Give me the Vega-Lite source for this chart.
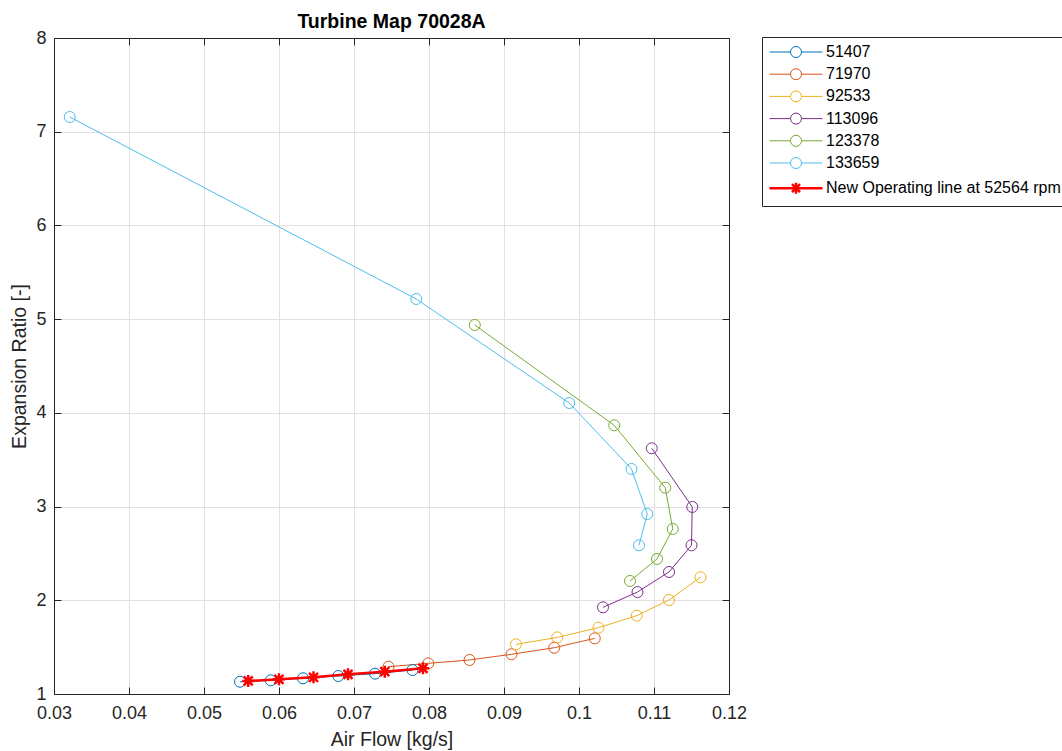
{
  "$schema": "https://vega.github.io/schema/vega-lite/v6.json",
  "width": 675,
  "height": 656,
  "autosize": {"type": "none"},
  "padding": {"left": 54, "top": 38, "right": 333, "bottom": 57},
  "background": "white",
  "title": {"text": "Turbine Map 70028A", "font": "Liberation Sans", "fontSize": 19.5, "fontWeight": "bold", "color": "#000000", "offset": 8, "dy": 11, "anchor": "middle", "frame": "group"},
  "config": {
    "view": {"stroke": null},
    "legend": {
      "orient": "none", "legendX": 708, "legendY": -1,
      "strokeColor": "#262626", "fillColor": "white", "padding": 7,
      "labelFont": "Liberation Sans", "labelFontSize": 16, "labelColor": "#000000", "labelLimit": 400,
      "symbolSize": 100, "symbolOffset": 19, "labelOffset": 22, "rowPadding": 6.2,
      "symbolFillColor": "transparent"
    }
  },
  "datasets": {"pts": [
    {"s": "51407", "i": 1, "x": 0.0548, "y": 1.131},
    {"s": "51407", "i": 2, "x": 0.0589, "y": 1.146},
    {"s": "51407", "i": 3, "x": 0.0632, "y": 1.168},
    {"s": "51407", "i": 4, "x": 0.0679, "y": 1.192},
    {"s": "51407", "i": 5, "x": 0.0728, "y": 1.217},
    {"s": "51407", "i": 6, "x": 0.0778, "y": 1.256},
    {"s": "71970", "i": 1, "x": 0.0746, "y": 1.291},
    {"s": "71970", "i": 2, "x": 0.0799, "y": 1.327},
    {"s": "71970", "i": 3, "x": 0.0854, "y": 1.363},
    {"s": "71970", "i": 4, "x": 0.0910, "y": 1.424},
    {"s": "71970", "i": 5, "x": 0.0967, "y": 1.494},
    {"s": "71970", "i": 6, "x": 0.1021, "y": 1.594},
    {"s": "92533", "i": 1, "x": 0.0916, "y": 1.530},
    {"s": "92533", "i": 2, "x": 0.0971, "y": 1.604},
    {"s": "92533", "i": 3, "x": 0.1026, "y": 1.708},
    {"s": "92533", "i": 4, "x": 0.1077, "y": 1.836},
    {"s": "92533", "i": 5, "x": 0.1120, "y": 2.003},
    {"s": "92533", "i": 6, "x": 0.1162, "y": 2.246},
    {"s": "113096", "i": 1, "x": 0.1032, "y": 1.925},
    {"s": "113096", "i": 2, "x": 0.1078, "y": 2.088},
    {"s": "113096", "i": 3, "x": 0.1120, "y": 2.302},
    {"s": "113096", "i": 4, "x": 0.1150, "y": 2.587},
    {"s": "113096", "i": 5, "x": 0.1151, "y": 2.996},
    {"s": "113096", "i": 6, "x": 0.1097, "y": 3.622},
    {"s": "123378", "i": 1, "x": 0.1068, "y": 2.206},
    {"s": "123378", "i": 2, "x": 0.1104, "y": 2.441},
    {"s": "123378", "i": 3, "x": 0.1125, "y": 2.761},
    {"s": "123378", "i": 4, "x": 0.1115, "y": 3.201},
    {"s": "123378", "i": 5, "x": 0.1047, "y": 3.867},
    {"s": "123378", "i": 6, "x": 0.0861, "y": 4.938},
    {"s": "133659", "i": 1, "x": 0.1080, "y": 2.587},
    {"s": "133659", "i": 2, "x": 0.1091, "y": 2.921},
    {"s": "133659", "i": 3, "x": 0.1070, "y": 3.401},
    {"s": "133659", "i": 4, "x": 0.0987, "y": 4.105},
    {"s": "133659", "i": 5, "x": 0.0783, "y": 5.215},
    {"s": "133659", "i": 6, "x": 0.0321, "y": 7.157},
    {"s": "New Operating line at 52564 rpm", "i": 1, "x": 0.0559, "y": 1.139},
    {"s": "New Operating line at 52564 rpm", "i": 2, "x": 0.0600, "y": 1.157},
    {"s": "New Operating line at 52564 rpm", "i": 3, "x": 0.0646, "y": 1.178},
    {"s": "New Operating line at 52564 rpm", "i": 4, "x": 0.0692, "y": 1.210},
    {"s": "New Operating line at 52564 rpm", "i": 5, "x": 0.0741, "y": 1.238},
    {"s": "New Operating line at 52564 rpm", "i": 6, "x": 0.0792, "y": 1.274}
  ]},
  "data": {"name": "pts"},
  "resolve": {"axis": {"x": "independent", "y": "independent"}},
  "encoding": {
    "color": {"field": "s", "type": "nominal",
      "scale": {"domain": ["51407", "71970", "92533", "113096", "123378", "133659", "New Operating line at 52564 rpm"],
        "range": ["#0072BD", "#D95319", "#EDB120", "#7E2F8E", "#77AC30", "#4DBEEE", "#FF0000"]},
      "legend": {"title": null,
        "symbolType": "M-5.3,0H-1.1M1.1,0H5.3M1.1,0A1.1,1.1,0,1,1,-1.1,0A1.1,1.1,0,1,1,1.1,0",
        "encode": {"symbols": {"update": {
          "shape": {"signal": "datum.value === 'New Operating line at 52564 rpm' ? 'M-5.3,0H5.3M-1.1,0H1.1M0,-1.1V1.1M-0.8,-0.8L0.8,0.8M-0.8,0.8L0.8,-0.8' : 'M-5.3,0H-1.1M1.1,0H5.3M1.1,0A1.1,1.1,0,1,1,-1.1,0A1.1,1.1,0,1,1,1.1,0'"},
          "strokeWidth": {"signal": "datum.value === 'New Operating line at 52564 rpm' ? 2.5 : 1"},
          "stroke": {"scale": "color", "field": "value"},
          "fill": {"value": "transparent"},
          "opacity": {"value": 1}
        }}}}}
  },
  "layer": [
    {
      "transform": [{"filter": "datum.s !== 'New Operating line at 52564 rpm'"}],
      "mark": {"type": "line", "clip": true, "strokeWidth": 1},
      "encoding": {
        "x": {"field": "x", "type": "quantitative",
          "scale": {"domain": [0.03, 0.12], "nice": false, "zero": false},
          "axis": {"orient": "bottom", "values": [0.03, 0.04, 0.05, 0.06, 0.07, 0.08, 0.09, 0.1, 0.11, 0.12], "format": "~g",
            "grid": true, "gridColor": "#e1e1e1", "ticks": false, "domainColor": "#262626",
            "labelPadding": 10, "labelFont": "Liberation Sans", "labelFontSize": 18, "labelColor": "#262626", "labelFlush": false,
            "title": "Air Flow [kg/s]", "titleFont": "Liberation Sans", "titleFontSize": 19.5, "titleFontWeight": "normal", "titleColor": "#262626", "titlePadding": 8}},
        "y": {"field": "y", "type": "quantitative",
          "scale": {"domain": [1, 8], "nice": false, "zero": false},
          "axis": {"orient": "left", "values": [1, 2, 3, 4, 5, 6, 7, 8],
            "grid": true, "gridColor": "#e1e1e1", "ticks": false, "domainColor": "#262626",
            "labelPadding": 8, "labelFont": "Liberation Sans", "labelFontSize": 18, "labelColor": "#262626", "labelFlush": false,
            "title": "Expansion Ratio [-]", "titleFont": "Liberation Sans", "titleFontSize": 19.5, "titleFontWeight": "normal", "titleColor": "#262626", "titlePadding": 6}},
        "order": {"field": "i", "type": "quantitative"}
      }
    },
    {
      "transform": [{"filter": "datum.s !== 'New Operating line at 52564 rpm'"}],
      "mark": {"type": "point", "shape": "circle", "filled": false, "clip": true, "opacity": 1, "size": 121, "strokeWidth": 1},
      "encoding": {
        "x": {"field": "x", "type": "quantitative",
          "axis": {"orient": "top", "values": [0.03, 0.12], "labels": false, "grid": false, "ticks": false, "domainColor": "#262626", "title": null}},
        "y": {"field": "y", "type": "quantitative",
          "axis": {"orient": "right", "values": [1, 8], "labels": false, "grid": false, "ticks": false, "domainColor": "#262626", "title": null}}
      }
    },
    {
      "transform": [{"filter": "datum.s === 'New Operating line at 52564 rpm'"}],
      "mark": {"type": "line", "clip": true, "strokeWidth": 2.5},
      "encoding": {
        "x": {"field": "x", "type": "quantitative",
          "axis": {"orient": "top", "offset": -656, "values": [0.03, 0.04, 0.05, 0.06, 0.07, 0.08, 0.09, 0.1, 0.11, 0.12], "labels": false, "grid": false, "domain": false, "ticks": true, "tickSize": 7, "tickWidth": 1, "tickColor": "#262626", "title": null}},
        "y": {"field": "y", "type": "quantitative",
          "axis": {"orient": "right", "offset": -675, "values": [1, 2, 3, 4, 5, 6, 7, 8], "labels": false, "grid": false, "domain": false, "ticks": true, "tickSize": 7, "tickWidth": 1, "tickColor": "#262626", "title": null}},
        "order": {"field": "i", "type": "quantitative"}
      }
    },
    {
      "transform": [{"filter": "datum.s === 'New Operating line at 52564 rpm'"}],
      "mark": {"type": "point", "shape": "M-1,0H1M0,-1V1M-0.75,-0.75L0.75,0.75M-0.75,0.75L0.75,-0.75", "filled": false, "clip": true, "opacity": 1, "size": 144, "strokeWidth": 2.5},
      "encoding": {
        "x": {"field": "x", "type": "quantitative",
          "axis": {"orient": "bottom", "offset": -656, "values": [0.03, 0.04, 0.05, 0.06, 0.07, 0.08, 0.09, 0.1, 0.11, 0.12], "labels": false, "grid": false, "domain": false, "ticks": true, "tickSize": 7, "tickWidth": 1, "tickColor": "#262626", "title": null}},
        "y": {"field": "y", "type": "quantitative",
          "axis": {"orient": "left", "offset": -675, "values": [1, 2, 3, 4, 5, 6, 7, 8], "labels": false, "grid": false, "domain": false, "ticks": true, "tickSize": 7, "tickWidth": 1, "tickColor": "#262626", "title": null}}
      }
    }
  ]
}
